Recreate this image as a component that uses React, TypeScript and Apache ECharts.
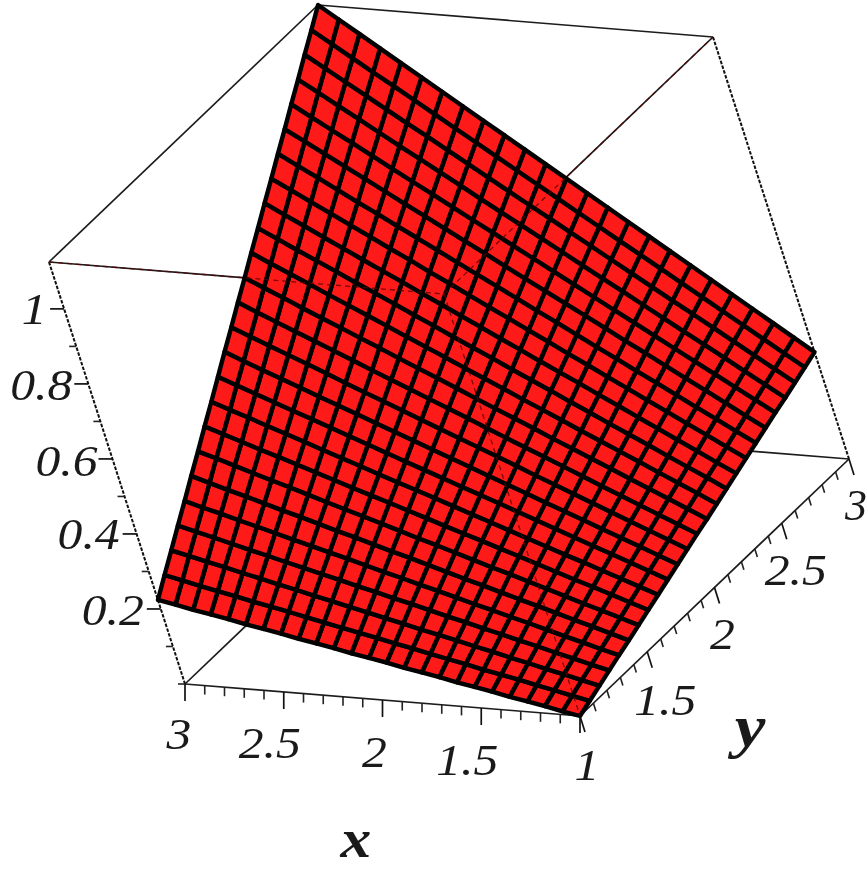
import React, { useEffect, useRef } from "react";
import * as echarts from "echarts";

// ---- data ----
const xValues = [1, 1.0833, 1.1667, 1.25, 1.3333, 1.4167, 1.5, 1.5833, 1.6667, 1.75, 1.8333, 1.9167, 2, 2.0833, 2.1667, 2.25, 2.3333, 2.4167, 2.5, 2.5833, 2.6667, 2.75, 2.8333, 2.9167, 3];
const yValues = [1, 1.0833, 1.1667, 1.25, 1.3333, 1.4167, 1.5, 1.5833, 1.6667, 1.75, 1.8333, 1.9167, 2, 2.0833, 2.1667, 2.25, 2.3333, 2.4167, 2.5, 2.5833, 2.6667, 2.75, 2.8333, 2.9167, 3];
// one row per y value, one column per x value
const zRows = [
  [0, .009, .019, .028, .037, .047, .056, .065, .075, .084, .093, .103, .112, .121, .131, .140, .149, .159, .168, .177, .187, .196, .205, .215, .224],
  [.012, .022, .033, .043, .054, .064, .074, .085, .095, .105, .116, .126, .137, .147, .157, .168, .178, .189, .199, .209, .220, .230, .240, .251, .262],
  [.024, .035, .047, .058, .070, .081, .093, .104, .116, .127, .138, .150, .161, .173, .184, .196, .207, .219, .230, .242, .253, .265, .276, .288, .299],
  [.036, .048, .061, .073, .086, .098, .111, .123, .136, .148, .161, .174, .186, .199, .211, .224, .236, .249, .261, .274, .286, .299, .312, .324, .337],
  [.048, .061, .075, .088, .102, .116, .129, .143, .156, .170, .184, .197, .211, .224, .238, .252, .265, .279, .292, .306, .320, .333, .347, .360, .374],
  [.059, .074, .089, .103, .118, .133, .147, .162, .177, .191, .206, .221, .236, .250, .265, .280, .294, .309, .324, .338, .353, .368, .382, .397, .412],
  [.071, .087, .103, .118, .134, .150, .166, .182, .197, .213, .229, .245, .260, .276, .292, .308, .323, .339, .355, .371, .386, .402, .418, .434, .449],
  [.083, .100, .117, .134, .150, .167, .184, .201, .218, .235, .251, .268, .285, .302, .319, .335, .352, .369, .386, .403, .420, .436, .453, .470, .487],
  [.095, .113, .131, .149, .167, .184, .202, .220, .238, .256, .274, .292, .310, .328, .345, .363, .381, .399, .417, .435, .453, .471, .489, .506, .524],
  [.107, .126, .145, .164, .183, .202, .221, .240, .259, .278, .297, .315, .334, .353, .372, .391, .410, .429, .448, .467, .486, .505, .524, .543, .562],
  [.119, .139, .159, .179, .199, .219, .239, .259, .279, .299, .319, .339, .359, .379, .399, .419, .439, .459, .479, .499, .519, .539, .559, .579, .600],
  [.131, .152, .173, .194, .215, .236, .257, .278, .299, .321, .342, .363, .384, .405, .426, .447, .468, .489, .510, .532, .553, .574, .595, .616, .637],
  [.143, .165, .187, .209, .231, .253, .276, .298, .320, .342, .364, .386, .409, .431, .453, .475, .497, .519, .542, .564, .586, .608, .630, .652, .675],
  [.154, .178, .201, .224, .247, .271, .294, .317, .340, .364, .387, .410, .433, .457, .480, .503, .526, .550, .573, .596, .619, .642, .666, .689, .712],
  [.166, .191, .215, .239, .264, .288, .312, .336, .361, .385, .409, .434, .458, .482, .507, .531, .555, .580, .604, .628, .652, .677, .701, .725, .750],
  [.178, .204, .229, .254, .280, .305, .330, .356, .381, .407, .432, .457, .483, .508, .533, .559, .584, .610, .635, .660, .686, .711, .736, .762, .787],
  [.190, .216, .243, .269, .296, .322, .349, .375, .402, .428, .454, .481, .507, .534, .560, .587, .613, .640, .666, .692, .719, .745, .772, .798, .825],
  [.202, .229, .257, .284, .312, .339, .367, .394, .422, .449, .477, .504, .532, .559, .587, .615, .642, .670, .697, .725, .752, .780, .807, .835, .862],
  [.214, .242, .271, .299, .328, .357, .385, .414, .442, .471, .500, .528, .557, .585, .614, .642, .671, .700, .728, .757, .785, .814, .843, .871, .900],
  [.226, .255, .285, .315, .344, .374, .404, .433, .463, .493, .522, .552, .581, .611, .641, .670, .700, .730, .759, .789, .819, .848, .878, .908, .937],
  [.238, .268, .299, .330, .360, .391, .422, .453, .483, .514, .545, .575, .606, .637, .668, .698, .729, .760, .790, .821, .852, .883, .913, .944, .975],
  [.249, .281, .313, .345, .377, .408, .440, .472, .504, .535, .567, .599, .631, .663, .694, .726, .758, .790, .822, .853, .885, .917, .949, .981, 1.012],
  [.261, .294, .327, .360, .393, .426, .458, .491, .524, .557, .590, .623, .656, .688, .721, .754, .787, .820, .853, .885, .918, .951, .984, 1.017, 1.050],
  [.273, .307, .341, .375, .409, .443, .477, .511, .545, .578, .612, .646, .680, .714, .748, .782, .816, .850, .884, .918, .952, .985, 1.019, 1.053, 1.087],
  [.285, .320, .355, .390, .425, .460, .495, .530, .565, .600, .635, .670, .705, .740, .775, .810, .845, .880, .915, .950, .985, 1.020, 1.055, 1.090, 1.125],
];
const xMajorTicks = [1, 1.5, 2, 2.5, 3];
const xMinorTicks = [1.1, 1.2, 1.3, 1.4, 1.6, 1.7, 1.8, 1.9, 2.1, 2.2, 2.3, 2.4, 2.6, 2.7, 2.8, 2.9];
const yMajorTicks = [1, 1.5, 2, 2.5, 3];
const yMinorTicks = [1.1, 1.2, 1.3, 1.4, 1.6, 1.7, 1.8, 1.9, 2.1, 2.2, 2.3, 2.4, 2.6, 2.7, 2.8, 2.9];
const zMajorTicks = [0.2, 0.4, 0.6, 0.8, 1];
const zMinorTicks = [0, 0.1, 0.3, 0.5, 0.7, 0.9];
const xTickLabels = ["1", "1.5", "2", "2.5", "3"];
const yTickLabels = ["1", "1.5", "2", "2.5", "3"];
const zTickLabels = ["0.2", "0.4", "0.6", "0.8", "1"];
const xName = "x";
const yName = "y";
const zRange = [0, 1.125];

// ---- orthographic view of the box ----
type V3 = [number, number, number];
const ORIGIN = [580, 716];
const X_DIR = [-395, -32];
const Y_DIR = [269, -257];
const Z_DIR = [-136, -422];
function project(x: number, y: number, z: number): [number, number] {
  const u = (x - 1) / 2;
  const v = (y - 1) / 2;
  const w = (z - zRange[0]) / (zRange[1] - zRange[0]);
  return [
    ORIGIN[0] + u * X_DIR[0] + v * Y_DIR[0] + w * Z_DIR[0],
    ORIGIN[1] + u * X_DIR[1] + v * Y_DIR[1] + w * Z_DIR[1],
  ];
}

const [zLo, zHi] = zRange;
const frontEdges: [V3, V3][] = [
  [[3, 1, zHi], [1, 1, zHi]],
  [[1, 1, zHi], [1, 3, zHi]],
  [[1, 1, zHi], [1, 1, zLo]],
];
const solidEdges: [V3, V3][] = [
  [[3, 1, zHi], [3, 3, zHi]],
  [[3, 3, zHi], [1, 3, zHi]],
  [[3, 1, zLo], [3, 3, zLo]],
  [[1, 3, zLo], [3, 3, zLo]],
  [[3, 1, zLo], [1, 1, zLo]],
  [[1, 1, zLo], [1, 3, zLo]],
];
const beadedEdges: [V3, V3][] = [
  [[3, 1, zHi], [3, 1, zLo]],
  [[1, 3, zHi], [1, 3, zLo]],
];

const LABEL_OFFSET: Record<string, [number, number]> = {
  "x1": [7, 49], "x1.5": [-14, 52], "x2": [-8, 52], "x2.5": [-14, 51], "x3": [-6, 50],
  "y1.5": [18, 48], "y2": [8, 47], "y2.5": [14, 47], "y3": [7, 46],
  "z0.2": [-48, 1], "z0.4": [-48, 0], "z0.6": [-46, 2], "z0.8": [-47, 1], "z1": [-30, 0],
};
const FONT = '"Liberation Serif", "Times New Roman", serif';

type Seg = { a: [number, number]; b: [number, number] };

function App() {
  const ref = useRef<HTMLDivElement>(null);
  useEffect(() => {
    const chart = echarts.init(ref.current!, undefined, { renderer: "svg" });

    const cells: number[][] = [];
    for (let j = 0; j < yValues.length - 1; j++) {
      for (let i = 0; i < xValues.length - 1; i++) cells.push([i, j]);
    }

    const segSeries = (segs: Seg[], style: any, z: number, name: string) => ({
      type: "custom",
      name,
      coordinateSystem: "cartesian2d",
      z,
      silent: true,
      clip: false,
      data: segs.map((_, k) => [k]),
      renderItem: (_p: any, api: any) => {
        const s = segs[api.value(0)];
        const a = api.coord(s.a);
        const b = api.coord(s.b);
        return {
          type: "line",
          shape: { x1: a[0], y1: a[1], x2: b[0], y2: b[1] },
          style: { fill: null, ...style },
        };
      },
    });

    const edgeSegs = (list: [V3, V3][]): Seg[] =>
      list.map(([p, q]) => ({ a: project(p[0], p[1], p[2]), b: project(q[0], q[1], q[2]) }));

    const tickSeg = (p: [number, number], dx: number, dy: number): Seg => ({
      a: p,
      b: [p[0] + dx, p[1] + dy],
    });
    const majorTicks: Seg[] = [
      ...xMajorTicks.map((t) => tickSeg(project(t, 1, zLo), 0, 17)),
      ...yMajorTicks.map((t) => tickSeg(project(1, t, zLo), 5, 16)),
      ...zMajorTicks.map((t) => tickSeg(project(3, 1, t), -14, 0)),
    ];
    const minorTicks: Seg[] = [
      ...xMinorTicks.map((t) => tickSeg(project(t, 1, zLo), 0, 9)),
      ...yMinorTicks.map((t) => tickSeg(project(1, t, zLo), 2.5, 8)),
      ...zMinorTicks.map((t) => tickSeg(project(3, 1, t), -7, 0)),
    ];

    const texts: { t: string; p: [number, number]; size: number; weight: string; sx: number }[] = [];
    xMajorTicks.forEach((t, k) => {
      const p = project(t, 1, zLo);
      const o = LABEL_OFFSET["x" + xTickLabels[k]];
      texts.push({ t: xTickLabels[k], p: [p[0] + o[0], p[1] + o[1]], size: 44, weight: "normal", sx: 1.13 });
    });
    yMajorTicks.forEach((t, k) => {
      if (k === 0) return; // the shared corner is labelled once, on the x axis
      const p = project(1, t, zLo);
      const o = LABEL_OFFSET["y" + yTickLabels[k]];
      texts.push({ t: yTickLabels[k], p: [p[0] + o[0], p[1] + o[1]], size: 44, weight: "normal", sx: yTickLabels[k] === "3" ? 1 : 1.13 });
    });
    zMajorTicks.forEach((t, k) => {
      const p = project(3, 1, t);
      const o = LABEL_OFFSET["z" + zTickLabels[k]];
      texts.push({ t: zTickLabels[k], p: [p[0] + o[0], p[1] + o[1]], size: 44, weight: "normal", sx: 1.13 });
    });
    texts.push({ t: xName, p: [356, 839], size: 54, weight: "bold", sx: 1.14 });
    texts.push({ t: yName, p: [750, 726], size: 60, weight: "bold", sx: 1.15 });

    chart.setOption({
      animation: false,
      grid: { left: 0, right: 0, top: 0, bottom: 0 },
      xAxis: { type: "value", min: 0, max: 868, show: false },
      yAxis: { type: "value", min: 0, max: 869, inverse: true, show: false },
      series: [
        segSeries(edgeSegs(solidEdges), { stroke: "#1c1c1c", lineWidth: 1.7 }, 1, "box"),
        segSeries(edgeSegs(beadedEdges), { stroke: "#111", lineWidth: 2, lineDash: [3.5, 1.5] }, 1, "box-z"),
        segSeries(edgeSegs(frontEdges), { stroke: "#1c1c1c", lineWidth: 1.7 }, 1, "box-front"),
        segSeries(majorTicks, { stroke: "#111", lineWidth: 1.7 }, 1, "major-ticks"),
        segSeries(minorTicks, { stroke: "#222", lineWidth: 1.6 }, 1, "minor-ticks"),
        {
          type: "custom",
          name: "surface",
          coordinateSystem: "cartesian2d",
          z: 2,
          silent: true,
          clip: false,
          data: cells,
          renderItem: (_p: any, api: any) => {
            const i = api.value(0);
            const j = api.value(1);
            const corner = (a: number, b: number) => api.coord(project(xValues[a], yValues[b], zRows[b][a]));
            return {
              type: "polygon",
              shape: { points: [corner(i, j), corner(i + 1, j), corner(i + 1, j + 1), corner(i, j + 1)] },
              style: { fill: "#ff1a1a", stroke: "#000", lineWidth: 4.4, lineJoin: "round" },
            };
          },
        },
        segSeries(edgeSegs(frontEdges), { stroke: "rgba(90,0,0,0.8)", lineWidth: 1.3, lineDash: [5, 4] }, 3, "box-front-over"),
        {
          type: "custom",
          name: "labels",
          coordinateSystem: "cartesian2d",
          z: 4,
          silent: true,
          clip: false,
          data: texts.map((_, k) => [k]),
          renderItem: (_p: any, api: any) => {
            const t = texts[api.value(0)];
            const c = api.coord(t.p);
            return {
              type: "text",
              x: c[0],
              y: c[1],
              scaleX: t.sx,
              style: {
                text: t.t,
                fontFamily: FONT,
                fontStyle: "italic",
                fontWeight: t.weight,
                fontSize: t.size,
                fill: "#1a1a1a",
                align: "center",
                verticalAlign: "middle",
              },
            };
          },
        },
      ],
    });
    return () => chart.dispose();
  }, []);
  return (
    <div
      ref={ref}
      style={{ position: "absolute", left: 0, top: 0, width: 868, height: 869, background: "#fff", filter: "blur(0.6px)" }}
    />
  );
}

export default App;
